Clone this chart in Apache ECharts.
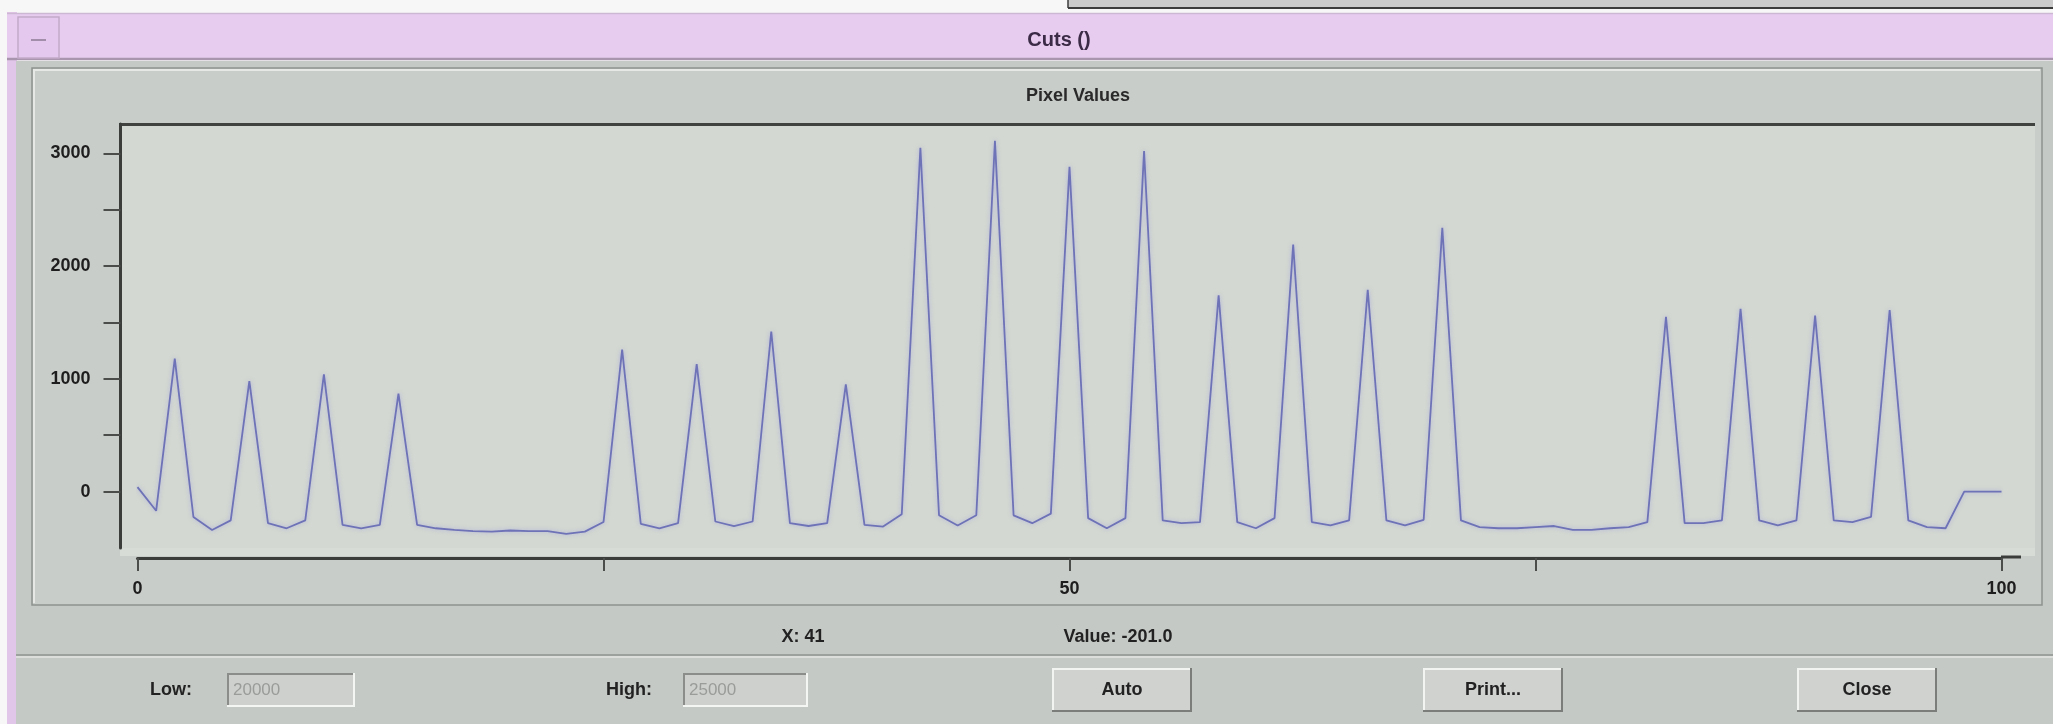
<!DOCTYPE html>
<html>
<head>
<meta charset="utf-8">
<script src="https://cdn.jsdelivr.net/npm/echarts@6/dist/echarts.min.js"></script>
<style>
html,body{margin:0;padding:0;background:#f7f7f7;}
#chart{width:2053px;height:724px;}
</style>
</head>
<body>
<div id="chart"></div>
<script>
// ---- data ----
const windowTitle = 'Cuts ()';
const chartTitle = 'Pixel Values';
const pixelValues = [
  40, -170, 1180, -225, -340, -255, 980, -280, -325, -255,
  1040, -295, -325, -295, 870, -295, -325, -340, -350, -355,
  -345, -350, -350, -375, -355, -270, 1260, -285, -325, -280,
  1130, -265, -305, -265, 1420, -280, -305, -280, 950, -295,
  -310, -201, 3050, -210, -300, -210, 3110, -210, -280, -195,
  2880, -235, -325, -235, 3020, -255, -280, -270, 1740, -270,
  -325, -235, 2190, -270, -300, -255, 1790, -255, -300, -250,
  2340, -255, -315, -325, -325, -315, -305, -340, -340, -325,
  -315, -270, 1550, -280, -280, -255, 1620, -255, -300, -255,
  1560, -255, -270, -225, 1610, -255, -315, -325, 0, 0,
  0
];
const yTickValues = [0, 500, 1000, 1500, 2000, 2500, 3000];
const yLabelValues = [0, 1000, 2000, 3000];
const xTickValues = [0, 25, 50, 75, 100];
const xLabelValues = [0, 50, 100];
const statusX = 'X: 41';
const statusValue = 'Value: -201.0';
const lowLabel = 'Low:';
const lowValue = '20000';
const highLabel = 'High:';
const highValue = '25000';
const buttonLabels = ['Auto', 'Print...', 'Close'];

// ---- styling ----
const FONT = '"Liberation Sans", Arial, sans-serif';
const txt = (x, y, s, opts = {}) => ({
  type: 'text', x, y,
  style: Object.assign({
    text: s, fill: '#222', font: 'bold 18px ' + FONT,
    textAlign: 'center', textVerticalAlign: 'middle'
  }, opts)
});
const line = (x1, y1, x2, y2, stroke, w) => ({
  type: 'line', shape: { x1, y1, x2, y2 }, style: { stroke, lineWidth: w }
});
const rect = (x, y, w, h, fill, stroke, lw) => ({
  type: 'rect', shape: { x, y, width: w, height: h },
  style: { fill, stroke: stroke || null, lineWidth: lw || 0 }
});
function button(x, y, w, h, label) {
  return [
    rect(x, y, w, h, '#cfd2cf'),
    line(x, y + 1, x + w, y + 1, '#f2f4f2', 2),
    line(x + 1, y, x + 1, y + h, '#f2f4f2', 2),
    line(x, y + h - 1, x + w, y + h - 1, '#7a7d7a', 2),
    line(x + w - 1, y, x + w - 1, y + h, '#7a7d7a', 2),
    txt(x + w / 2, y + h / 2, label)
  ];
}
function field(x, y, w, h, value) {
  return [
    rect(x, y, w, h, '#cdd0cd'),
    line(x, y + 1, x + w, y + 1, '#8a8d8a', 2),
    line(x + 1, y, x + 1, y + h, '#8a8d8a', 2),
    line(x, y + h - 1, x + w, y + h - 1, '#f4f6f4', 2),
    line(x + w - 1, y, x + w - 1, y + h, '#f4f6f4', 2),
    txt(x + 6, y + h / 2, value, { textAlign: 'left', fill: '#9a9c9a', font: '17px ' + FONT })
  ];
}

const graphics = [
  rect(0, 0, 2053, 724, '#f7f7f7'),
  // window behind, top right
  rect(1068, 0, 985, 8, '#cbcbcb'),
  line(1068, 8, 2053, 8, '#3c3c3c', 2),
  line(1068, 0, 1068, 8, '#3c3c3c', 1.5),
  // left border strip
  rect(7, 12, 10, 712, '#e2c6ea'),
  // title bar
  rect(7, 13, 2046, 47, '#e7ccf0'),
  line(7, 13.5, 2053, 13.5, '#cdb8d3', 1.5),
  line(7, 59, 2053, 59, '#a996ae', 2.5),
  rect(18, 17, 41, 41, '#e4c8ed', '#c2a9c9', 1.5),
  line(31, 40, 46, 40, '#a28dab', 2),
  txt(1059, 40, windowTitle, { fill: '#3b2b46', font: 'bold 20px ' + FONT }),
  // window body
  rect(16, 61, 2037, 663, '#c5c9c5'),
  // chart panel
  rect(32, 68, 2010, 537, '#c9cdc9', '#8e928e', 1.5),
  line(33, 70, 2040, 70, '#e6e8e6', 2),
  line(34, 69, 34, 603, '#e6e8e6', 2),
  txt(1078, 96, chartTitle, { fill: '#2a2a2a' }),
  // plot background
  rect(120, 124, 1915, 424, '#d3d8d2'),
  line(119, 124.5, 2035, 124.5, '#3f423f', 3),
  rect(120, 548, 1915, 8, '#d8dcd7'),
  line(2001, 557, 2021, 557, '#3a3d3a', 3),
  // status line
  txt(803, 637, statusX),
  txt(1118, 637, statusValue),
  line(16, 655, 2053, 655, '#8f938f', 1.5),
  line(16, 657, 2053, 657, '#e2e5e2', 1.5),
  // bottom controls
  txt(171, 690, lowLabel),
  ...field(227, 673, 128, 34, lowValue),
  txt(629, 690, highLabel),
  ...field(683, 673, 125, 34, highValue),
  ...button(1052, 668, 140, 44, buttonLabels[0]),
  ...button(1423, 668, 140, 44, buttonLabels[1]),
  ...button(1797, 668, 140, 44, buttonLabels[2])
];

const chart = echarts.init(document.getElementById('chart'), null, { renderer: 'canvas' });
chart.setOption({
  animation: false,
  backgroundColor: 'transparent',
  graphic: { elements: graphics },
  grid: { left: 137.5, right: 51.5, top: 124, bottom: 176, zlevel: 1, show: false },
  xAxis: {
    type: 'value', min: 0, max: 100, interval: 25, offset: 10, zlevel: 1, position: 'bottom',
    axisLine: { show: true, onZero: false, lineStyle: { color: '#3a3d3a', width: 3 } },
    axisTick: { show: true, inside: false, length: 13, customValues: xTickValues, lineStyle: { color: '#4a4d4a', width: 2 } },
    axisLabel: {
      customValues: xLabelValues, margin: 22,
      formatter: v => (xLabelValues.indexOf(v) >= 0 ? String(v) : ''),
      color: '#1e1e1e', fontSize: 18, fontWeight: 'bold', fontFamily: FONT
    },
    splitLine: { show: false }
  },
  yAxis: {
    type: 'value', min: -500, max: 3260, offset: 17, zlevel: 1, position: 'left',
    axisLine: { show: true, onZero: false, lineStyle: { color: '#3a3d3a', width: 3 } },
    axisTick: { show: true, inside: false, length: 17, customValues: yTickValues, lineStyle: { color: '#4a4d4a', width: 2 } },
    axisLabel: {
      customValues: yLabelValues, margin: 30,
      formatter: v => String(v),
      color: '#1e1e1e', fontSize: 18, fontWeight: 'bold', fontFamily: FONT
    },
    splitLine: { show: false }
  },
  series: [{
    type: 'line', zlevel: 1, showSymbol: false, symbol: 'none',
    data: pixelValues.map((v, i) => [i, v]),
    lineStyle: { color: '#6e72b6', width: 1.8, shadowBlur: 4, shadowColor: 'rgba(140,140,225,0.55)' }
  }]
});
</script>
</body>
</html>
